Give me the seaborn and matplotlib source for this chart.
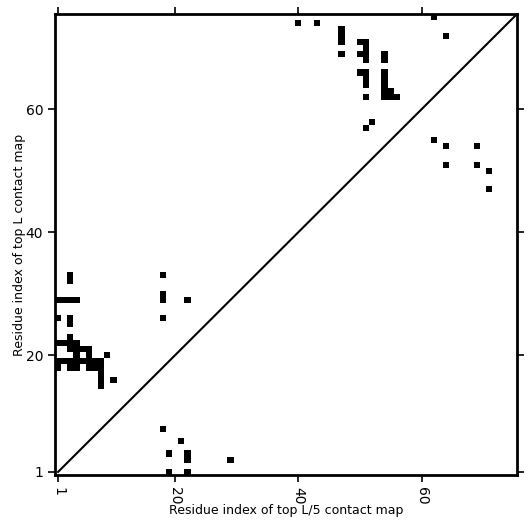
import numpy as np
import matplotlib
matplotlib.use("Agg")
import matplotlib.pyplot as plt
import seaborn as sns
from matplotlib.colors import ListedColormap

L = 75

# top L contacts (residue i, residue j), 1-based
top_l_x = [3, 3, 1, 2, 3, 4, 1, 3, 3, 3, 1, 2, 3, 4, 3, 4, 5, 6, 4, 6, 9,
           1, 2, 3, 4, 5, 6, 7, 8, 1, 3, 4, 6, 7, 8, 8, 8, 8, 10,
           18, 18, 18, 18, 22,
           40, 43, 47, 47, 47, 47, 50, 51, 51, 50, 51, 51, 54, 54,
           50, 51, 51, 51, 51, 54, 54, 54, 54, 54, 55, 55, 56,
           51, 52, 62, 64]
top_l_y = [33, 32, 29, 29, 29, 29, 26, 26, 25, 23, 22, 22, 22, 22, 21, 21, 21, 21, 20, 20, 20,
           19, 19, 19, 19, 19, 19, 19, 19, 18, 18, 18, 18, 18, 18, 17, 16, 15, 16,
           33, 30, 29, 26, 29,
           74, 74, 73, 72, 71, 69, 71, 71, 70, 69, 69, 68, 69, 68,
           66, 66, 65, 64, 62, 66, 65, 64, 63, 62, 63, 62, 62,
           57, 58, 75, 72]

# top L/5 contacts
top_l5_x = [18, 21, 19, 22, 22, 29, 19, 22, 62, 64, 69, 64, 69, 71, 71]
top_l5_y = [8, 6, 4, 4, 3, 3, 1, 1, 55, 54, 54, 51, 51, 50, 47]

tick_labels = [1, 20, 40, 60]

cmap = np.zeros((L, L))
for i, j in zip(top_l_x + top_l5_x, top_l_y + top_l5_y):
    cmap[j - 1, i - 1] = 1

fig = plt.figure(figsize=(5.31, 5.31), dpi=100)
ax = fig.add_axes([0.1036, 0.1055, 0.870, 0.868])
sns.heatmap(cmap, cmap=ListedColormap(["white", "black"]), cbar=False, ax=ax,
            xticklabels=False, yticklabels=False)
ax.invert_yaxis()

ax.plot([0.5, L], [0.5, L], color="black", lw=1.5)
ax.set_xlim(0, L)
ax.set_ylim(0, L)

ticks = [t - 0.5 for t in tick_labels]
ax.set_xticks(ticks)
ax.set_xticklabels(tick_labels, rotation=-90)
ax.set_yticks(ticks)
ax.set_yticklabels(tick_labels, rotation=0)
ax.tick_params(top=True, right=True, direction="out", length=5, width=1.2, labelsize=10)

for s in ax.spines.values():
    s.set_visible(True)
    s.set_linewidth(2)
    s.set_color("black")

ax.set_xlabel("Residue index of top L/5 contact map", fontsize=9, labelpad=0)
ax.set_ylabel("Residue index of top L contact map", fontsize=9, labelpad=0)

plt.savefig("out.png", dpi=100)
